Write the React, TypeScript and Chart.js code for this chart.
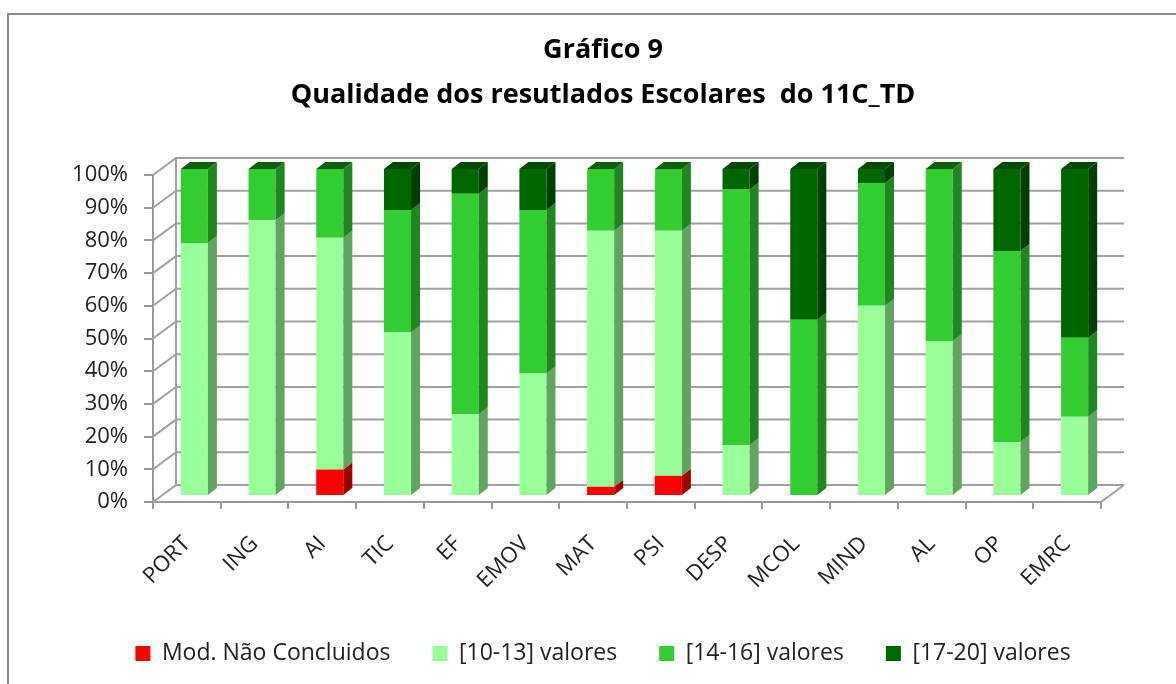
import React, { useEffect, useRef } from 'react';
import { Chart, registerables } from 'chart.js';

Chart.register(...registerables);

// ---- data ----
const categories = ['PORT', 'ING', 'AI', 'TIC', 'EF', 'EMOV', 'MAT', 'PSI', 'DESP', 'MCOL', 'MIND', 'AL', 'OP', 'EMRC'];
const seriesLabels = ['Mod. Não Concluidos', '[10-13] valores', '[14-16] valores', '[17-20] valores'];
const notConcluded = [0, 0, 8.1, 0, 0, 0, 2.8, 6.2, 0, 0, 0, 0, 0, 0];
const grade10to13 = [77.4, 84.3, 70.9, 50, 25, 37.5, 78.3, 74.9, 15.5, 0, 58.2, 47.4, 16.5, 24.2];
const grade14to16 = [22.6, 15.7, 21, 37.5, 67.4, 50, 18.9, 18.9, 78.2, 53.9, 37.5, 52.6, 58.4, 24.2];
const grade17to20 = [0, 0, 0, 12.5, 7.6, 12.5, 0, 0, 6.3, 46.1, 4.3, 0, 25.1, 51.6];
const yTickValues = [0, 10, 20, 30, 40, 50, 60, 70, 80, 90, 100];
const titleLines = ['Gráfico 9', 'Qualidade dos resutlados Escolares  do 11C_TD'];

// ---- styles ----
const FONT = "'Open Sans', sans-serif";
const CANVAS_W = 1206;
const CANVAS_H = 684;
const WALL_DX = 23;
const WALL_DY = 17;
const BAR_SHIFT_X = 7.5;
const BAR_SHIFT_Y = 6;
const BAR_DEPTH_X = 9;
const BAR_DEPTH_Y = 7;
const AXIS_X = 153;
const RIGHT_SPACE = 105;
const faces = [
  { front: '#ff0000', side: '#a00000', top: '#c00000' },
  { front: '#99ff99', side: '#60a460', top: '#6fbf6f' },
  { front: '#33cc33', side: '#20861f', top: '#0d5e0d' },
  { front: '#006600', side: '#003f00', top: '#004a00' },
];
const seriesData = [notConcluded, grade10to13, grade14to16, grade17to20];

const poly = (ctx: CanvasRenderingContext2D, pts: number[][], color: string) => {
  ctx.beginPath();
  ctx.moveTo(pts[0][0], pts[0][1]);
  for (let k = 1; k < pts.length; k++) ctx.lineTo(pts[k][0], pts[k][1]);
  ctx.closePath();
  ctx.fillStyle = color;
  ctx.fill();
};

const threeD = {
  id: 'threeD',
  beforeDraw(chart: any) {
    const ctx = chart.ctx as CanvasRenderingContext2D;
    ctx.save();
    ctx.strokeStyle = '#8c8c8c';
    ctx.lineWidth = 2;
    ctx.strokeRect(8, 14, 1400, 1000);
    ctx.restore();
  },
  beforeDatasetsDraw(chart: any) {
    const ctx = chart.ctx as CanvasRenderingContext2D;
    const { left, right } = chart.chartArea;
    const ys = chart.scales.y;
    ctx.save();
    ctx.strokeStyle = '#a0a0a0';
    ctx.lineWidth = 2;
    ctx.beginPath();
    yTickValues.forEach((v) => {
      const py = ys.getPixelForValue(v);
      ctx.moveTo(left, py);
      ctx.lineTo(left + WALL_DX, py - WALL_DY);
      ctx.lineTo(right + WALL_DX, py - WALL_DY);
    });
    const y0 = ys.getPixelForValue(0);
    const y100 = ys.getPixelForValue(100);
    ctx.moveTo(left + WALL_DX, y0 - WALL_DY);
    ctx.lineTo(left + WALL_DX, y100 - WALL_DY);
    ctx.moveTo(right, y0);
    ctx.lineTo(right + WALL_DX, y0 - WALL_DY);
    ctx.stroke();
    ctx.restore();
    ctx.save();
    ctx.translate(BAR_SHIFT_X, -BAR_SHIFT_Y);
  },
  afterDatasetsDraw(chart: any) {
    const ctx = chart.ctx as CanvasRenderingContext2D;
    chart.data.datasets.forEach((ds: any, di: number) => {
      const meta = chart.getDatasetMeta(di);
      meta.data.forEach((bar: any, i: number) => {
        if (!ds.data[i]) return;
        const r = bar.x + bar.width / 2;
        poly(ctx, [[r, bar.y], [r + BAR_DEPTH_X, bar.y - BAR_DEPTH_Y], [r + BAR_DEPTH_X, bar.base - BAR_DEPTH_Y], [r, bar.base]], faces[di].side);
      });
    });
    categories.forEach((_, i) => {
      let topIdx = -1;
      chart.data.datasets.forEach((ds: any, di: number) => {
        if (ds.data[i]) topIdx = di;
      });
      if (topIdx < 0) return;
      const bar = chart.getDatasetMeta(topIdx).data[i] as any;
      const l = bar.x - bar.width / 2;
      const r = bar.x + bar.width / 2;
      poly(ctx, [[l, bar.y], [l + BAR_DEPTH_X, bar.y - BAR_DEPTH_Y], [r + BAR_DEPTH_X, bar.y - BAR_DEPTH_Y], [r, bar.y]], faces[topIdx].top);
    });
    ctx.restore();
  },
};

export default function App() {
  const ref = useRef<HTMLCanvasElement | null>(null);
  useEffect(() => {
    if (!ref.current) return;
    const chart = new Chart(ref.current, {
      type: 'bar',
      data: {
        labels: categories,
        datasets: seriesLabels.map((label, di) => ({
          label,
          data: seriesData[di],
          backgroundColor: faces[di].front,
          borderWidth: 0,
          barPercentage: 0.4,
          categoryPercentage: 1,
        })),
      },
      options: {
        responsive: false,
        animation: false,
        events: [],
        devicePixelRatio: 1,
        layout: { padding: { top: 28, left: 0, right: 0, bottom: 9 } },
        plugins: {
          title: {
            display: true,
            text: titleLines,
            color: '#000',
            font: { family: FONT, size: 27, weight: 'bold', lineHeight: 1.667 },
            padding: { top: 0, bottom: 57 },
          },
          legend: {
            position: 'bottom',
            labels: {
              boxWidth: 15,
              boxHeight: 15,
              padding: 42,
              color: '#222',
              font: { family: FONT, size: 23 },
            },
          },
          tooltip: { enabled: false },
        },
        scales: {
          x: {
            stacked: true,
            afterFit: (s: any) => { s.height = 98; },
            grid: { display: true, drawOnChartArea: false, offset: true, tickLength: 7, color: '#999', lineWidth: 2 },
            border: { display: true, color: '#999', width: 2 },
            ticks: { color: '#222', font: { family: FONT, size: 22 }, minRotation: 45, maxRotation: 45, padding: 22, autoSkip: false },
          },
          y: {
            stacked: true,
            min: 0,
            max: 100,
            afterFit: (s: any) => { s.width = AXIS_X; },
            grid: { display: true, drawOnChartArea: false, tickLength: 9, color: '#999', lineWidth: 2 },
            border: { display: true, color: '#999', width: 2 },
            ticks: { stepSize: 10, color: '#222', padding: 16, font: { family: FONT, size: 22 }, callback: (v: any) => v + '%' },
          },
          spacer: {
            type: 'linear',
            position: 'right',
            display: true,
            afterFit: (s: any) => { s.width = RIGHT_SPACE; },
            grid: { display: false, drawTicks: false },
            border: { display: false },
            ticks: { display: false },
          },
        },
      },
      plugins: [threeD],
    });
    return () => chart.destroy();
  }, []);
  return (
    <div style={{ position: 'fixed', left: 0, top: 0, width: 1176, height: CANVAS_H, overflow: 'hidden', background: '#fff' }}>
      <canvas ref={ref} width={CANVAS_W} height={CANVAS_H} style={{ width: CANVAS_W, height: CANVAS_H, display: 'block' }} />
    </div>
  );
}
